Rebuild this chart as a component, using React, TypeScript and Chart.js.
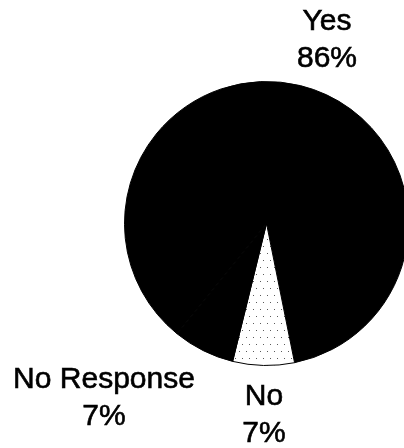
import React, { useEffect, useRef } from "react";
import { Chart, registerables } from "chart.js";

Chart.register(...registerables);

const categories = ["Yes", "No", "No Response"];
const values = [86, 7, 7];
const percentLabels = ["86%", "7%", "7%"];

// label text placement (centre x, baseline of first line), in page pixels
const labelX = [327, 264, 104];
const labelY = [30, 405, 388];
const LINE_GAP = 37;

function makeDotPattern(): CanvasPattern | string {
  const c = document.createElement("canvas");
  c.width = 7;
  c.height = 14;
  const g = c.getContext("2d");
  if (!g) return "#fff";
  g.fillStyle = "#ffffff";
  g.fillRect(0, 0, 7, 14);
  g.fillStyle = "#5a5a5a";
  g.fillRect(1, 1, 1, 1);
  g.fillRect(4, 8, 1, 1);
  const ctx = document.createElement("canvas").getContext("2d");
  return ctx ? (ctx.createPattern(c, "repeat") as CanvasPattern) : "#fff";
}

export default function App() {
  const ref = useRef<HTMLCanvasElement | null>(null);

  useEffect(() => {
    if (!ref.current) return;
    const pattern = makeDotPattern();
    const labelPlugin = {
      id: "outsideLabels",
      afterDraw(chart: any) {
        const ctx = chart.ctx;
        ctx.save();
        ctx.fillStyle = "#000";
        ctx.strokeStyle = "#000";
        ctx.lineWidth = 0.6;
        ctx.font = "30px 'Liberation Sans', Arial, sans-serif";
        ctx.textAlign = "center";
        ctx.textBaseline = "alphabetic";
        categories.forEach((cat, i) => {
          ctx.fillText(cat, labelX[i], labelY[i]);
          ctx.strokeText(cat, labelX[i], labelY[i]);
          ctx.fillText(percentLabels[i], labelX[i], labelY[i] + LINE_GAP);
          ctx.strokeText(percentLabels[i], labelX[i], labelY[i] + LINE_GAP);
        });
        ctx.restore();
      },
    };
    const chart = new Chart(ref.current, {
      type: "pie",
      data: {
        labels: categories,
        datasets: [
          {
            data: values,
            backgroundColor: ["#000000", pattern as any, "#000000"],
            borderColor: "#000000",
            borderWidth: 1,
          },
        ],
      },
      options: {
        responsive: false,
        animation: false,
        devicePixelRatio: 1,
        rotation: 219,
        layout: { padding: { left: 124, right: 11, top: 81, bottom: 82 } },
        plugins: {
          legend: { display: false },
          tooltip: { enabled: false },
          title: { display: false },
        },
      },
      plugins: [labelPlugin],
    });
    return () => chart.destroy();
  }, []);

  return (
    <div
      style={{
        position: "fixed",
        left: 0,
        top: 0,
        width: 404,
        height: 448,
        overflow: "hidden",
        background: "#fff",
      }}
    >
      <canvas ref={ref} width={420} height={448} style={{ width: 420, height: 448, display: "block" }} />
    </div>
  );
}
